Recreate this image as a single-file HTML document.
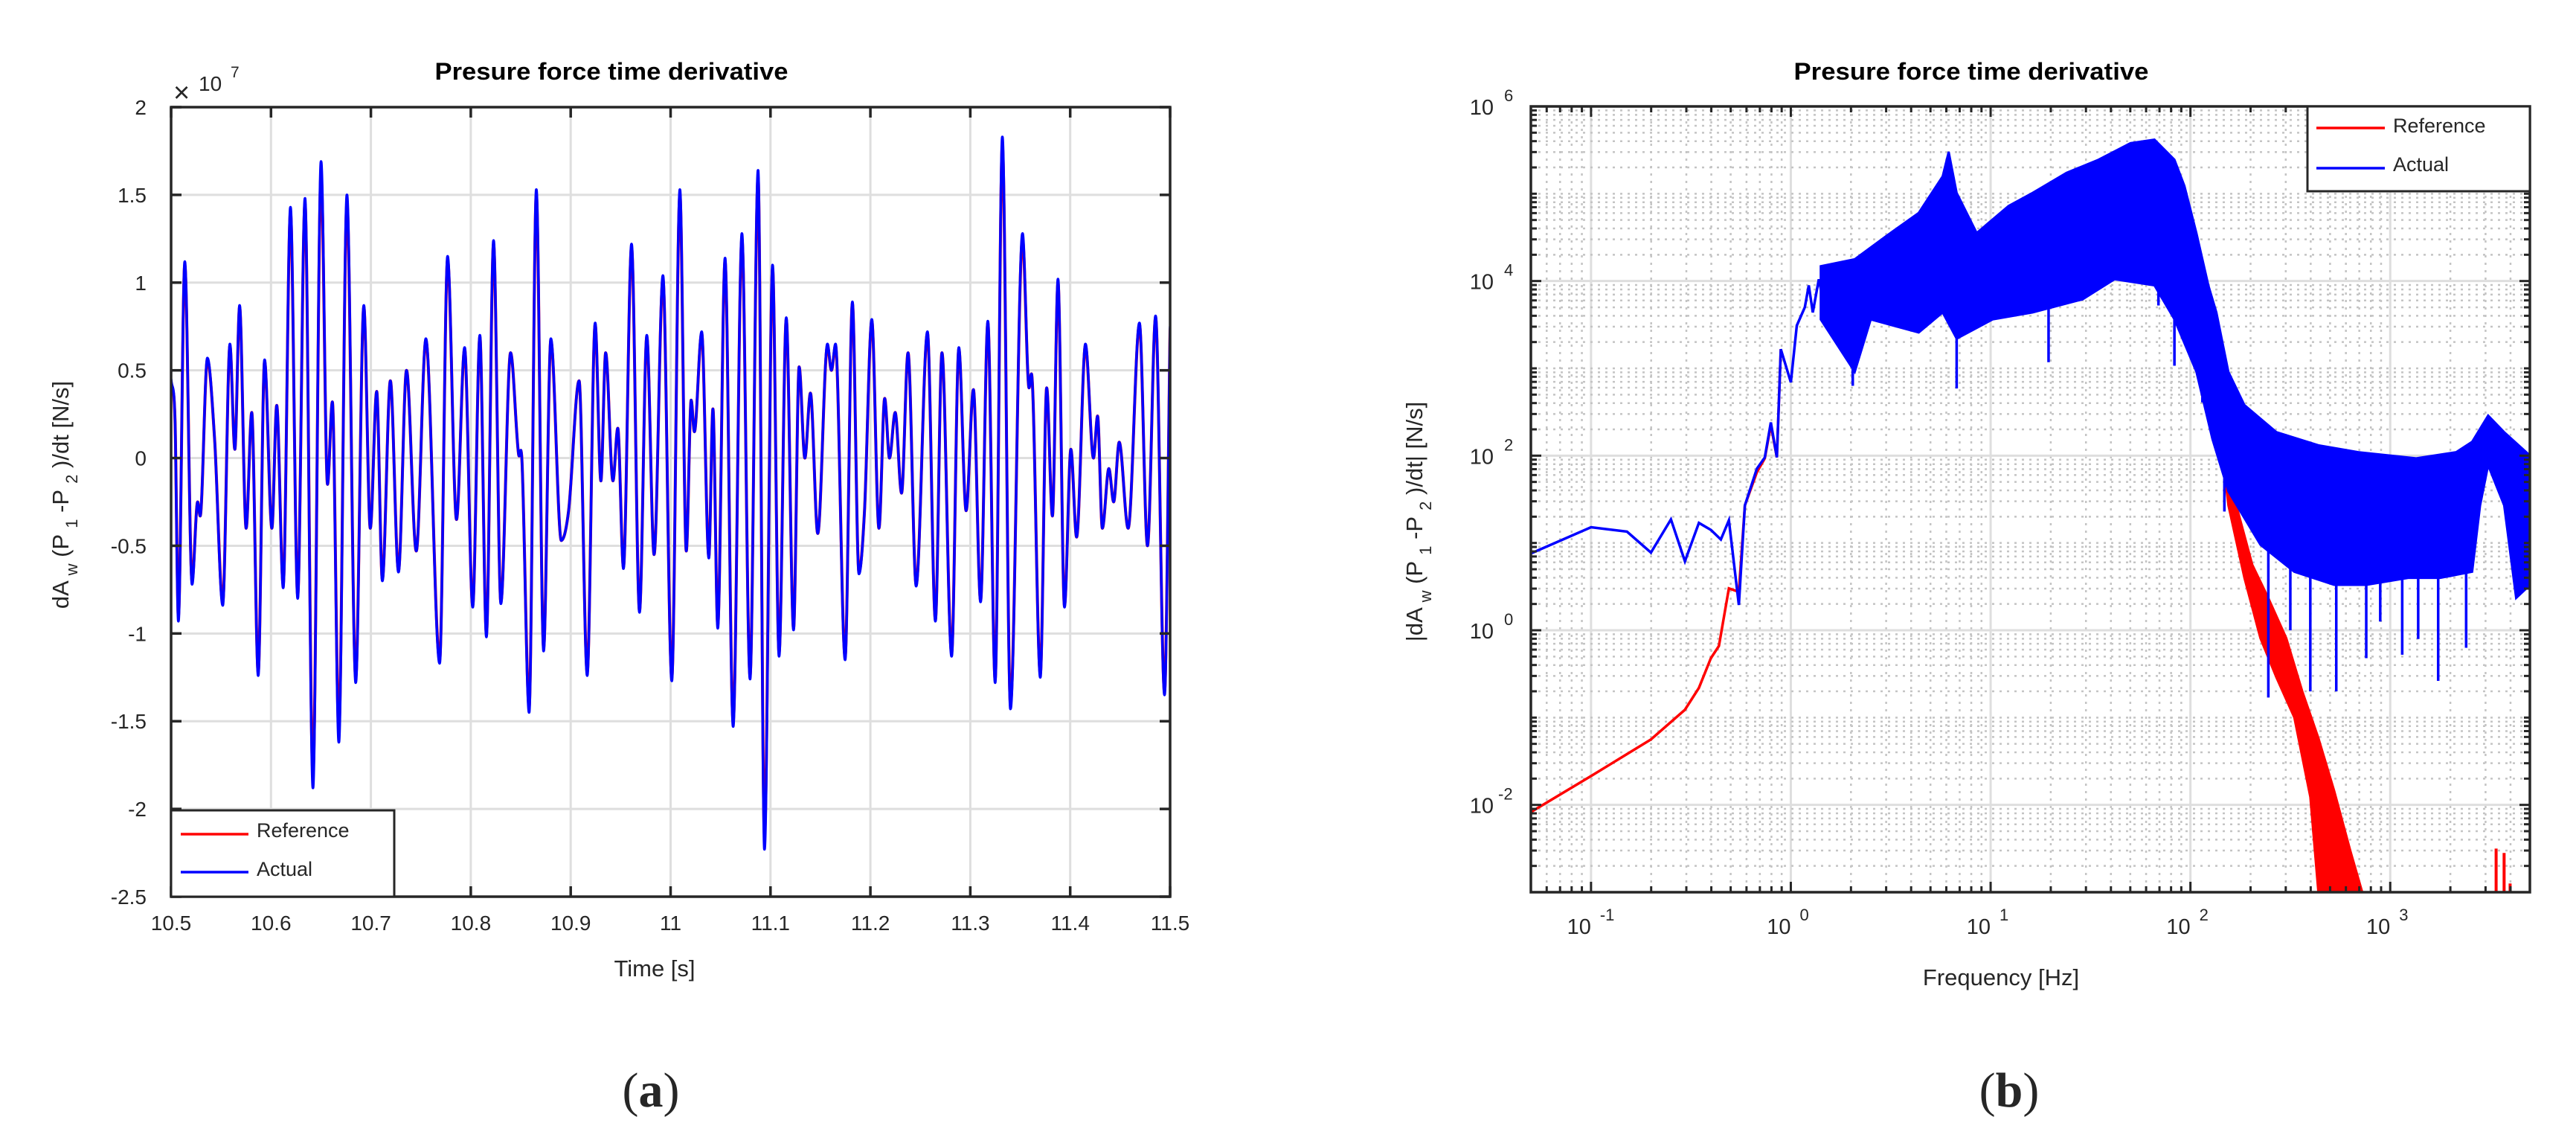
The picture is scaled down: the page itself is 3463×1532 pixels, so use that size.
<!DOCTYPE html>
<html><head><meta charset="utf-8"><style>
html,body{margin:0;padding:0;background:#fff}
svg{display:block}
text{font-family:"Liberation Sans",sans-serif;fill:#262626}
</style></head><body>
<svg id="fig" xmlns="http://www.w3.org/2000/svg" width="3463" height="1532" viewBox="0 0 3463 1532">
<rect x="0" y="0" width="3463" height="1532" fill="#fff"/>
<g id="chartA"></g>
<g id="chartB"></g>
<text x="875" y="1487" font-size="66" text-anchor="middle" style="font-family:'Liberation Serif',serif">(<tspan font-weight="bold">a</tspan>)</text>
<text x="2701" y="1487" font-size="66" text-anchor="middle" style="font-family:'Liberation Serif',serif">(<tspan font-weight="bold">b</tspan>)</text>
</svg>
<script>
// ---------- Chart A data (time series local extrema) ----------
const timeS = [10.5,10.504,10.5073,10.5137,10.521,10.5266,10.5291,10.5363,10.5436,10.5517,10.5589,10.5638,10.5686,10.5751,10.5807,10.5872,10.5936,10.6009,10.6057,10.6122,10.6195,10.6267,10.634,10.642,10.6501,10.6566,10.6614,10.6679,10.676,10.6848,10.6929,10.6994,10.7058,10.7115,10.7195,10.7276,10.7357,10.7454,10.755,10.7688,10.7768,10.7857,10.7938,10.8019,10.8091,10.8156,10.8228,10.8301,10.8398,10.8479,10.8511,10.8584,10.8656,10.8729,10.8801,10.8906,10.8979,10.9084,10.9165,10.9245,10.9302,10.935,10.9423,10.9471,10.9528,10.9609,10.9689,10.9762,10.9835,10.9923,11.0012,11.0093,11.0157,11.0206,11.0238,11.0311,11.0383,11.0424,11.0472,11.0545,11.0626,11.0714,11.0795,11.0876,11.094,11.1021,11.1086,11.1158,11.1231,11.1287,11.1344,11.14,11.1473,11.157,11.161,11.1651,11.1747,11.182,11.1885,11.1941,11.2014,11.2086,11.2143,11.2191,11.2248,11.2312,11.2377,11.2458,11.2571,11.2651,11.2716,11.2813,11.2885,11.2958,11.3031,11.3103,11.3176,11.3249,11.3321,11.3402,11.3523,11.3588,11.3612,11.3701,11.3765,11.3822,11.3878,11.3943,11.4007,11.4064,11.4153,11.4233,11.4274,11.4322,11.4387,11.4435,11.4491,11.458,11.4693,11.4774,11.4855,11.4944,11.5];
const actualVal = [0.45,0.2,-0.93,1.12,-0.72,-0.25,-0.33,0.57,0.1,-0.84,0.65,0.05,0.87,-0.4,0.26,-1.24,0.56,-0.4,0.3,-0.74,1.43,-0.8,1.48,-1.88,1.69,-0.15,0.32,-1.62,1.5,-1.28,0.87,-0.4,0.38,-0.7,0.44,-0.65,0.5,-0.53,0.68,-1.17,1.15,-0.35,0.63,-0.85,0.7,-1.02,1.24,-0.83,0.6,0.02,0.0,-1.45,1.53,-1.1,0.68,-0.47,-0.3,0.44,-1.24,0.77,-0.13,0.6,-0.13,0.17,-0.63,1.22,-0.88,0.7,-0.55,1.04,-1.27,1.53,-0.53,0.33,0.15,0.72,-0.57,0.28,-0.97,1.14,-1.53,1.28,-1.26,1.64,-2.23,1.1,-1.13,0.8,-0.98,0.52,0.0,0.37,-0.43,0.65,0.5,0.65,-1.15,0.89,-0.66,-0.3,0.79,-0.4,0.34,0.0,0.26,-0.2,0.6,-0.73,0.72,-0.93,0.6,-1.13,0.63,-0.3,0.39,-0.82,0.78,-1.28,1.83,-1.43,1.28,0.4,0.48,-1.25,0.4,-0.33,1.02,-0.85,0.05,-0.45,0.65,0.0,0.24,-0.4,-0.06,-0.25,0.09,-0.4,0.77,-0.5,0.81,-1.35,0.75];
const referenceVal = [0.42,0.2,-0.9,1.1,-0.7,-0.25,-0.33,0.56,0.1,-0.82,0.64,0.05,0.86,-0.4,0.26,-1.22,0.55,-0.4,0.3,-0.72,1.4,-0.78,1.45,-1.8,1.62,-0.15,0.32,-1.55,1.45,-1.25,0.86,-0.4,0.38,-0.69,0.44,-0.64,0.5,-0.53,0.67,-1.15,1.13,-0.35,0.62,-0.84,0.69,-1.0,1.22,-0.82,0.6,0.02,0.0,-1.42,1.5,-1.08,0.67,-0.47,-0.3,0.44,-1.22,0.76,-0.13,0.6,-0.13,0.17,-0.62,1.2,-0.87,0.69,-0.55,1.02,-1.25,1.5,-0.53,0.33,0.15,0.71,-0.56,0.28,-0.95,1.12,-1.5,1.25,-1.24,1.6,-2.15,1.08,-1.11,0.79,-0.97,0.52,0.0,0.37,-0.43,0.64,0.5,0.64,-1.13,0.88,-0.65,-0.3,0.78,-0.4,0.34,0.0,0.26,-0.2,0.6,-0.72,0.71,-0.92,0.6,-1.11,0.62,-0.3,0.39,-0.81,0.77,-1.26,1.78,-1.4,1.25,0.4,0.48,-1.23,0.4,-0.33,1.0,-0.84,0.05,-0.45,0.64,0.0,0.24,-0.4,-0.06,-0.25,0.09,-0.4,0.76,-0.5,0.8,-1.33,0.74];
const xTicksA = [10.5,10.6,10.7,10.8,10.9,11,11.1,11.2,11.3,11.4,11.5];
const xTickLabelsA = ["10.5","10.6","10.7","10.8","10.9","11","11.1","11.2","11.3","11.4","11.5"];
const yTicksA = [2,1.5,1,0.5,0,-0.5,-1,-1.5,-2,-2.5];
const yTickLabelsA = ["2","1.5","1","0.5","0","-0.5","-1","-1.5","-2","-2.5"];

// ---------- Chart B data (log10 frequency / log10 magnitude) ----------
const blueLowLogF = [-1.30,-1.00,-0.82,-0.70,-0.60,-0.53,-0.46,-0.40,-0.35,-0.31,-0.26,-0.23,-0.17,-0.13,-0.10,-0.07,-0.05,0.00,0.03,0.07,0.09,0.11,0.14,0.16];
const blueLowLogM = [0.88,1.18,1.13,0.89,1.27,0.79,1.23,1.15,1.04,1.26,0.29,1.43,1.85,1.98,2.38,1.98,3.22,2.84,3.49,3.70,3.95,3.64,4.02,3.8];
const redLowLogF = [-1.30,-1.00,-0.70,-0.53,-0.46,-0.40,-0.36,-0.31,-0.26,-0.23,-0.17,-0.13,-0.10,-0.07,-0.05];
const redLowLogM = [-2.08,-1.67,-1.25,-0.91,-0.66,-0.32,-0.18,0.48,0.44,1.43,1.81,1.97,2.35,1.98,3.22];
const bandUpLogF = [0.15,0.32,0.48,0.64,0.76,0.79,0.83,0.93,1.09,1.21,1.38,1.54,1.70,1.82,1.92,1.97,2.03,2.09,2.13,2.19,2.27,2.43,2.64,2.84,3.13,3.33,3.41,3.49,3.57,3.70];
const bandUpLogM = [4.17,4.25,4.52,4.78,5.20,5.48,5.01,4.55,4.86,5.01,5.24,5.39,5.58,5.62,5.39,5.09,4.55,3.95,3.64,2.96,2.58,2.27,2.12,2.04,1.97,2.04,2.16,2.46,2.27,2.00];
const bandLoLogF = [0.15,0.32,0.40,0.64,0.76,0.83,1.01,1.21,1.46,1.62,1.82,1.92,2.03,2.11,2.19,2.35,2.52,2.72,2.88,3.09,3.25,3.41,3.45,3.49,3.57,3.63,3.70];
const bandLoLogM = [3.56,2.96,3.56,3.41,3.64,3.34,3.56,3.64,3.79,4.02,3.95,3.56,2.96,2.19,1.59,0.98,0.67,0.52,0.52,0.60,0.60,0.67,1.43,1.89,1.43,0.37,0.52];
const spikeLogF = [0.31,0.83,1.29,1.84,1.92,2.06,2.17,2.39,2.60,2.73,2.88,3.06,3.24,3.14,2.50,2.95,3.38];
const spikeLogM = [2.80,2.77,3.07,3.72,3.03,2.61,1.36,-0.77,-0.70,-0.70,-0.32,-0.28,-0.58,-0.1,0.0,0.1,-0.2];
const redUpLogF = [2.00,2.07,2.15,2.23,2.31,2.39,2.48,2.56,2.64,2.72,2.80,2.86];
const redUpLogM = [4.3,3.7,2.55,1.43,0.75,0.37,-0.09,-0.70,-1.23,-1.84,-2.52,-3.00];
const redLoLogF = [2.00,2.11,2.19,2.27,2.35,2.43,2.52,2.60,2.64];
const redLoLogM = [4.0,2.96,1.43,0.60,-0.09,-0.54,-1.00,-1.91,-3.00];
const redSpikeLogF = [3.53,3.57,3.60];
const redSpikeLogM = [-2.50,-2.55,-2.9];
const xTickExpB = [-1,0,1,2,3];
const yTickExpB = [-2,0,2,4,6];

const NS = "http://www.w3.org/2000/svg";
function mk(tag, attrs, parent){const e=document.createElementNS(NS,tag);for(const k in attrs)e.setAttribute(k,attrs[k]);parent.appendChild(e);return e;}
function monoPath(px,py){
  const n=px.length;const d=[],m=new Array(n);
  for(let i=0;i<n-1;i++)d.push((py[i+1]-py[i])/(px[i+1]-px[i]));
  m[0]=d[0];m[n-1]=d[n-2];
  for(let i=1;i<n-1;i++){m[i]=(d[i-1]*d[i]<=0)?0:(d[i-1]+d[i])/2;}
  let s="M"+px[0].toFixed(1)+","+py[0].toFixed(1);
  for(let i=0;i<n-1;i++){const h=px[i+1]-px[i];
    s+=" C"+(px[i]+h/3).toFixed(1)+","+(py[i]+m[i]*h/3).toFixed(1)+" "+(px[i+1]-h/3).toFixed(1)+","+(py[i+1]-m[i+1]*h/3).toFixed(1)+" "+px[i+1].toFixed(1)+","+py[i+1].toFixed(1);}
  return s;
}

// ================= Chart A =================
(function(){
  const g=document.getElementById('chartA');
  const L=230,R=1573,T=144,B=1205;
  const xs=t=>L+(t-10.5)/(1.0)*(R-L);
  const ys=v=>T+(2-v)/4.5*(B-T);
  const grid=mk('g',{},g);
  
  
  xTicksA.forEach(t=>{mk('line',{x1:xs(t),x2:xs(t),y1:T,y2:B,stroke:'#dedede','stroke-width':3},grid);});
  yTicksA.forEach(v=>{mk('line',{x1:L,x2:R,y1:ys(v),y2:ys(v),stroke:'#dedede','stroke-width':3},grid);});
  const clip=mk('clipPath',{id:'clipA'},g);mk('rect',{x:L,y:T,width:R-L,height:B-T},clip);
  const ref=mk('path',{d:monoPath(timeS.map(xs),referenceVal.map(ys)),fill:'none',stroke:'#ff0000','stroke-width':4,'clip-path':'url(#clipA)'},g);
  
  
  const act=mk('path',{d:monoPath(timeS.map(xs),actualVal.map(ys)),fill:'none',stroke:'#0000ff','stroke-width':3.6,'clip-path':'url(#clipA)'},g);
  
  
  const ax=mk('g',{},g);
  
  
  mk('rect',{x:L,y:T,width:R-L,height:B-T,fill:'none',stroke:'#262626','stroke-width':3.5},ax);
  xTicksA.forEach((t,i)=>{const x=xs(t);
    mk('line',{x1:x,x2:x,y1:B,y2:B-14,stroke:'#262626','stroke-width':3.5},ax);
    mk('line',{x1:x,x2:x,y1:T,y2:T+14,stroke:'#262626','stroke-width':3.5},ax);
    const tx=mk('text',{x:x,y:1250,'font-size':28,'text-anchor':'middle'},ax);tx.textContent=xTickLabelsA[i];
    
    });
  yTicksA.forEach((v,i)=>{const y=ys(v);
    mk('line',{x1:L,x2:L+14,y1:y,y2:y,stroke:'#262626','stroke-width':3.5},ax);
    mk('line',{x1:R,x2:R-14,y1:y,y2:y,stroke:'#262626','stroke-width':3.5},ax);
    const tx=mk('text',{x:197,y:y+10,'font-size':28,'text-anchor':'end'},ax);tx.textContent=yTickLabelsA[i];
    
    });
  const mult=mk('text',{x:233,y:137,'font-size':38},g);
  
  
  mult.innerHTML='×<tspan x="267" y="122" font-size="28">10</tspan><tspan x="310" y="104" font-size="21">7</tspan>';
  const ti=mk('text',{x:822,y:107,'font-size':32,'font-weight':'bold','text-anchor':'middle',textLength:475,lengthAdjust:'spacingAndGlyphs',style:'fill:#000'},g);
  ti.textContent='Presure force time derivative';
  
  
  const xl=mk('text',{x:880,y:1312,'font-size':31,'text-anchor':'middle'},g);xl.textContent='Time [s]';
  
  
  const yl=mk('text',{x:0,y:0,'font-size':31,'text-anchor':'middle',transform:'translate(92,665) rotate(-90)'},g);
  yl.innerHTML='dA <tspan font-size="22" dy="12">w</tspan><tspan dy="-12"> (P </tspan><tspan font-size="22" dy="12">1</tspan><tspan dy="-12"> -P </tspan><tspan font-size="22" dy="12">2</tspan><tspan dy="-12"> )/dt [N/s]</tspan>';
  
  
  const lg=mk('g',{},g);
  
  
  mk('rect',{x:L,y:1089,width:300,height:B-1089,fill:'#fff',stroke:'#262626','stroke-width':3},lg);
  const l1=mk('line',{x1:243,x2:334,y1:1121,y2:1121,stroke:'#ff0000','stroke-width':3.5},lg);
  
  
  const t1=mk('text',{x:345,y:1125,'font-size':27},lg);t1.textContent='Reference';
  
  
  const l2=mk('line',{x1:243,x2:334,y1:1172,y2:1172,stroke:'#0000ff','stroke-width':3.5},lg);
  
  
  const t2=mk('text',{x:345,y:1177,'font-size':27},lg);t2.textContent='Actual';
  
  
})();

// ================= Chart B =================
(function(){
  const g=document.getElementById('chartB');
  const L=2058,R=3401,T=143,B=1199;
  const X0=Math.log10(0.05),X1=Math.log10(5000),Y0=-3,Y1=6;
  const xs=lf=>L+(lf-X0)/(X1-X0)*(R-L);
  const ys=lm=>B-(lm-Y0)/(Y1-Y0)*(B-T);
  const grid=mk('g',{},g);
  
  
  for(let e=-2;e<=3;e++){for(let k=1;k<=9;k++){const lf=e+Math.log10(k);if(lf<X0||lf>X1)continue;
    if(k===1&&e>=-1)mk('line',{x1:xs(lf),x2:xs(lf),y1:T,y2:B,stroke:'#dedede','stroke-width':3},grid);
    else mk('line',{x1:xs(lf),x2:xs(lf),y1:T,y2:B,stroke:'#c4c4c4','stroke-width':2.5,'stroke-dasharray':'3 7'},grid);}}
  for(let e=-3;e<=5;e++){for(let k=1;k<=9;k++){const lm=e+Math.log10(k);if(lm<=Y0||lm>=Y1)continue;
    if(k===1&&e%2===0)mk('line',{x1:L,x2:R,y1:ys(lm),y2:ys(lm),stroke:'#dedede','stroke-width':3},grid);
    else mk('line',{x1:L,x2:R,y1:ys(lm),y2:ys(lm),stroke:'#c4c4c4','stroke-width':2.5,'stroke-dasharray':'3 7'},grid);}}
  const clip=mk('clipPath',{id:'clipB'},g);mk('rect',{x:L,y:T,width:R-L,height:B-T},clip);
  const data=mk('g',{'clip-path':'url(#clipB)'},g);
  
  
  function poly(uf,um,lf,lm){let p=[];for(let i=0;i<uf.length;i++)p.push(xs(uf[i]).toFixed(1)+','+ys(um[i]).toFixed(1));
    for(let i=lf.length-1;i>=0;i--)p.push(xs(lf[i]).toFixed(1)+','+ys(lm[i]).toFixed(1));return p.join(' ');}
  function line(f,m){return f.map((v,i)=>(i?'L':'M')+xs(v).toFixed(1)+','+ys(m[i]).toFixed(1)).join(' ');}
  const rb=mk('polygon',{points:poly(redUpLogF,redUpLogM,redLoLogF,redLoLogM),fill:'#ff0000',stroke:'#ff0000','stroke-width':3},data);
  
  
  redSpikeLogF.forEach((f,i)=>{const s=mk('line',{x1:xs(f),x2:xs(f),y1:B,y2:ys(redSpikeLogM[i]),stroke:'#ff0000','stroke-width':4},data);
    
    });
  const rl=mk('path',{d:line(redLowLogF,redLowLogM),fill:'none',stroke:'#ff0000','stroke-width':3.5},data);
  
  
  const bb=mk('polygon',{points:poly(bandUpLogF,bandUpLogM,bandLoLogF,bandLoLogM),fill:'#0000ff',stroke:'#0000ff','stroke-width':3},data);
  
  
  spikeLogF.forEach((f,i)=>{
    let j=0;while(j<bandLoLogF.length-2&&bandLoLogF[j+1]<f)j++;
    const fr=(f-bandLoLogF[j])/(bandLoLogF[j+1]-bandLoLogF[j]);
    const top=bandLoLogM[j]+fr*(bandLoLogM[j+1]-bandLoLogM[j]);
    const s=mk('line',{x1:xs(f),x2:xs(f),y1:ys(top),y2:ys(spikeLogM[i]),stroke:'#0000ff','stroke-width':3.5},data);
    
    });
  const bl=mk('path',{d:line(blueLowLogF,blueLowLogM),fill:'none',stroke:'#0000ff','stroke-width':3.5},data);
  
  
  const ax=mk('g',{},g);
  
  
  mk('rect',{x:L,y:T,width:R-L,height:B-T,fill:'none',stroke:'#262626','stroke-width':3.5},ax);
  for(let e=-2;e<=3;e++){for(let k=1;k<=9;k++){const lf=e+Math.log10(k);if(lf<=X0||lf>=X1)continue;const len=k===1?14:8;
    mk('line',{x1:xs(lf),x2:xs(lf),y1:B,y2:B-len,stroke:'#262626','stroke-width':3},ax);
    mk('line',{x1:xs(lf),x2:xs(lf),y1:T,y2:T+len,stroke:'#262626','stroke-width':3},ax);}}
  for(let e=-3;e<=5;e++){for(let k=1;k<=9;k++){const lm=e+Math.log10(k);if(lm<=Y0||lm>=Y1)continue;const len=(k===1&&e%2===0)?14:8;
    mk('line',{x1:L,x2:L+len,y1:ys(lm),y2:ys(lm),stroke:'#262626','stroke-width':3},ax);
    mk('line',{x1:R,x2:R-len,y1:ys(lm),y2:ys(lm),stroke:'#262626','stroke-width':3},ax);}}
  xTickExpB.forEach(e=>{const x=xs(e);
    const tx=mk('text',{x:x,y:1255,'font-size':29,'text-anchor':'end'},ax);tx.textContent='10';
    
    
    const sp=mk('text',{x:x+12,y:1237,'font-size':22},ax);sp.textContent=String(e);
    
    });
  yTickExpB.forEach(e=>{const y=ys(e);
    const tx=mk('text',{x:2008,y:y+11,'font-size':29,'text-anchor':'end'},ax);tx.textContent='10';
    
    
    const sp=mk('text',{x:e<0?2014:2022,y:y-7,'font-size':22},ax);sp.textContent=String(e);
    
    });
  const ti=mk('text',{x:2650,y:107,'font-size':32,'font-weight':'bold','text-anchor':'middle',textLength:477,lengthAdjust:'spacingAndGlyphs',style:'fill:#000'},g);
  ti.textContent='Presure force time derivative';
  
  
  const xl=mk('text',{x:2690,y:1324,'font-size':31,'text-anchor':'middle'},g);xl.textContent='Frequency [Hz]';
  
  
  const yl=mk('text',{x:0,y:0,'font-size':31,'text-anchor':'middle',transform:'translate(1912,701) rotate(-90)'},g);
  yl.innerHTML='|dA <tspan font-size="22" dy="12">w</tspan><tspan dy="-12"> (P </tspan><tspan font-size="22" dy="12">1</tspan><tspan dy="-12"> -P </tspan><tspan font-size="22" dy="12">2</tspan><tspan dy="-12"> )/dt| [N/s]</tspan>';
  
  
  const lg=mk('g',{},g);
  
  
  mk('rect',{x:3102,y:T,width:R-3102,height:114,fill:'#fff',stroke:'#262626','stroke-width':3},lg);
  const l1=mk('line',{x1:3114,x2:3206,y1:172,y2:172,stroke:'#ff0000','stroke-width':3.5},lg);
  
  
  const t1=mk('text',{x:3217,y:178,'font-size':27},lg);t1.textContent='Reference';
  
  
  const l2=mk('line',{x1:3114,x2:3206,y1:226,y2:226,stroke:'#0000ff','stroke-width':3.5},lg);
  
  
  const t2=mk('text',{x:3217,y:230,'font-size':27},lg);t2.textContent='Actual';
  
  
})();
</script>
</body></html>
